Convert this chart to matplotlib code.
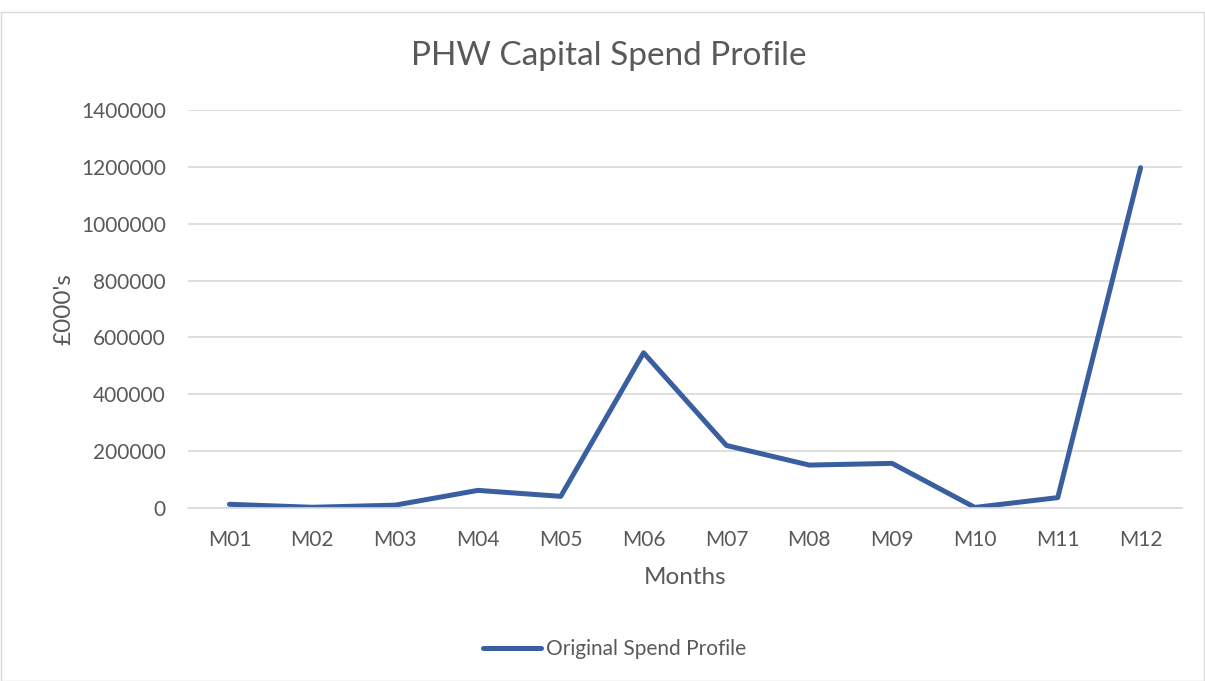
import matplotlib
matplotlib.use('Agg')
import matplotlib.pyplot as plt
from matplotlib.patches import Rectangle

months = ['M01', 'M02', 'M03', 'M04', 'M05', 'M06',
          'M07', 'M08', 'M09', 'M10', 'M11', 'M12']
spend = [13000, 2500, 10000, 62000, 41000, 546000,
         220000, 151000, 157000, 2000, 36500, 1197000]
y_ticks = [0, 200000, 400000, 600000, 800000, 1000000, 1200000, 1400000]

text_grey = '#595959'
line_blue = '#3A5FA0'

plt.rcParams['font.family'] = ['Lato', 'DejaVu Sans']

fig = plt.figure(figsize=(12.05, 6.81), dpi=100)
ax = fig.add_axes([188 / 1205, 1 - 508 / 681, 994 / 1205, 398 / 681])

x = list(range(len(months)))
ax.plot(x, spend, color=line_blue, linewidth=3.6, solid_joinstyle='round',
        solid_capstyle='round', label='Original Spend Profile')

ax.set_xlim(-0.5, len(months) - 0.5)
ax.set_ylim(0, 1400000)
ax.set_yticks(y_ticks)
ax.set_yticklabels([str(v) for v in y_ticks])
ax.set_xticks(x)
ax.set_xticklabels(months)
ax.tick_params(colors=text_grey, labelsize=15, length=0)
ax.tick_params(axis='x', pad=16)
ax.tick_params(axis='y', pad=16)
ax.grid(axis='y', color='#D9D9D9', linewidth=1.2)
ax.set_axisbelow(True)
for side in ['top', 'right', 'left']:
    ax.spines[side].set_visible(False)
ax.spines['bottom'].set_color('#D9D9D9')
ax.spines['bottom'].set_linewidth(1.2)

ax.set_xlabel('Months', color=text_grey, fontsize=17.5, labelpad=12)
ax.set_ylabel("£000's", color=text_grey, fontsize=17.5, labelpad=5)
fig.text(0.505, 1 - 56 / 681, 'PHW Capital Spend Profile', color=text_grey,
         fontsize=24, ha='center', va='center')

fig.legend(loc='center', bbox_to_anchor=(0.51, 1 - 649 / 681), frameon=False,
           fontsize=15, labelcolor=text_grey, handlelength=2.8, handletextpad=0.25)

# light chart border
fig.patches.append(Rectangle((0.001, 0.0), 0.998, 1 - 12 / 681, transform=fig.transFigure,
                             fill=False, edgecolor='#D9D9D9', linewidth=1))

fig.savefig('out.png', dpi=100, facecolor='white')
